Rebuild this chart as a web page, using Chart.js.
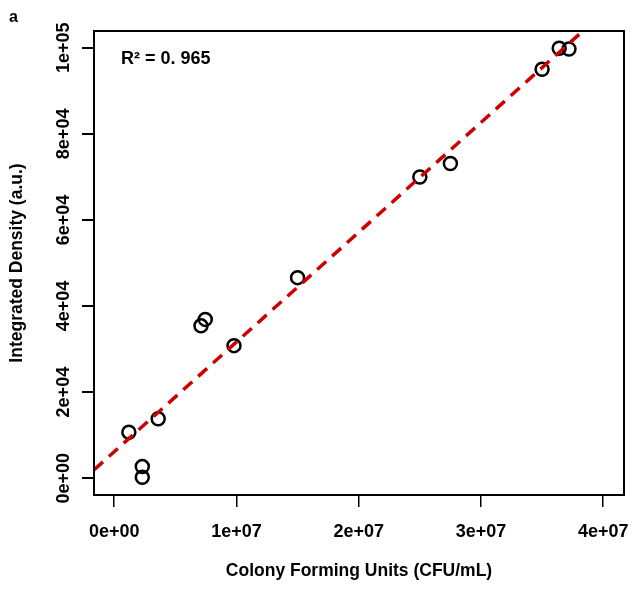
<!DOCTYPE html>
<html>
<head>
<meta charset="utf-8">
<script src="https://cdn.jsdelivr.net/npm/chart.js@4/dist/chart.umd.min.js"></script>
<style>
  html, body { margin: 0; padding: 0; background: #ffffff; }
  #wrap { width: 633px; height: 589px; position: relative; }
</style>
</head>
<body>
<div id="wrap"><canvas id="c" width="633" height="589"></canvas></div>
<script>
// ---- data ----
const cfu = [1.2e6, 2.3e6, 2.3e6, 3.6e6, 7.1e6, 7.45e6, 9.8e6, 1.5e7, 2.5e7, 2.75e7, 3.5e7, 3.64e7, 3.72e7];
const density = [10700, 2700, 200, 13800, 35400, 36900, 30800, 46600, 70000, 73100, 95000, 99900, 99700];
const fitIntercept = 6140;
const fitSlope = 0.00255;
const rSquaredLabel = 'R\u00B2 = 0. 965';
const panelLabel = 'a';
const xTickValues = [0, 1e7, 2e7, 3e7, 4e7];
const xTickLabels = ['0e+00', '1e+07', '2e+07', '3e+07', '4e+07'];
const yTickValues = [0, 2e4, 4e4, 6e4, 8e4, 1e5];
const yTickLabels = ['0e+00', '2e+04', '4e+04', '6e+04', '8e+04', '1e+05'];
const xTitle = 'Colony Forming Units (CFU/mL)';
const yTitle = 'Integrated Density (a.u.)';
const xRange = [-1.65e6, 4.17e7];
const yRange = [-3900, 103900];

const FONT = "'Liberation Sans', Arial, Helvetica, sans-serif";
Chart.defaults.font.family = FONT;
Chart.defaults.color = '#000';

const points = cfu.map((x, i) => ({x: x, y: density[i]}));
const fitLine = xRange.map(x => ({x: x, y: fitIntercept + fitSlope * x}));

const boxPlugin = {
  id: 'boxAndText',
  afterDatasetsDraw(chart) {
    const {ctx, chartArea: a} = chart;
    ctx.save();
    ctx.strokeStyle = '#000';
    ctx.lineWidth = 2;
    ctx.strokeRect(a.left, a.top, a.right - a.left, a.bottom - a.top);
    ctx.fillStyle = '#000';
    ctx.textBaseline = 'middle';
    ctx.textAlign = 'left';
    ctx.font = 'bold 18px ' + FONT;
    ctx.fillText(rSquaredLabel, a.left + 27, a.top + 28);
    ctx.font = 'bold 16px ' + FONT;
    ctx.fillText(panelLabel, 9, 18);
    ctx.restore();
  }
};

new Chart(document.getElementById('c'), {
  type: 'scatter',
  data: {
    datasets: [
      {
        type: 'line',
        data: fitLine,
        borderColor: '#cc0000',
        borderWidth: 3.5,
        borderDash: [12, 8],
        pointRadius: 0,
        fill: false,
        order: 0,
        clip: 0
      },
      {
        data: points,
        pointStyle: 'circle',
        pointRadius: 6.5,
        pointBorderWidth: 2.5,
        pointBorderColor: '#000',
        pointBackgroundColor: 'rgba(0,0,0,0)',
        order: 1
      }
    ]
  },
  options: {
    responsive: false,
    animation: false,
    layout: { padding: { left: 0, top: 31, right: 6, bottom: 0 } },
    plugins: { legend: { display: false }, tooltip: { enabled: false } },
    scales: {
      x: {
        type: 'linear',
        min: xRange[0],
        max: xRange[1],
        afterBuildTicks: s => { s.ticks = xTickValues.map(v => ({value: v})); },
        afterFit: s => { s.height = 94; s.paddingLeft = 0; s.paddingRight = 0; },
        border: { display: false },
        grid: { display: true, drawOnChartArea: false, drawTicks: true, tickLength: 12, color: '#000', lineWidth: 1.5 },
        ticks: {
          font: { size: 18, weight: 'bold' },
          padding: 14,
          maxRotation: 0,
          autoSkip: false,
          callback: (v) => { const i = xTickValues.indexOf(v); return i >= 0 ? xTickLabels[i] : ''; }
        },
        title: { display: true, text: xTitle, font: { size: 17.5, weight: 'bold' }, padding: { top: 4, bottom: 7 } }
      },
      y: {
        type: 'linear',
        min: yRange[0],
        max: yRange[1],
        afterBuildTicks: s => { s.ticks = yTickValues.map(v => ({value: v})); },
        afterFit: s => { s.width = 94; s.paddingTop = 0; s.paddingBottom = 0; },
        border: { display: false },
        grid: { display: true, drawOnChartArea: false, drawTicks: true, tickLength: 12, color: '#000', lineWidth: 2 },
        ticks: {
          font: { size: 18, weight: 'bold' },
          minRotation: 90,
          maxRotation: 90,
          crossAlign: 'center',
          padding: -7,
          autoSkip: false,
          callback: (v) => { const i = yTickValues.indexOf(v); return i >= 0 ? yTickLabels[i] : ''; }
        },
        title: { display: true, text: yTitle, font: { size: 17.5, weight: 'bold' }, padding: { top: 7, bottom: 4 } }
      }
    }
  },
  plugins: [boxPlugin]
});
</script>
</body>
</html>
